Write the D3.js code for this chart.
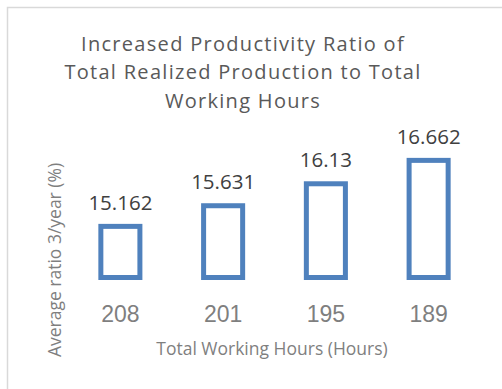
<!DOCTYPE html>
<html>
<head>
<meta charset="utf-8">
<script src="https://cdn.jsdelivr.net/npm/d3@7"></script>
<style>
  body { margin: 0; background: #fff; }
  svg { display: block; font-family: "Open Sans", "Noto Sans", sans-serif; }
</style>
</head>
<body>
<div id="graf"></div>
<script>
// data
const categories = ["208", "201", "195", "189"];
const values = [15.162, 15.631, 16.13, 16.662];
const titleLines = ["Increased Productivity Ratio of", "Total Realized Production to Total", "Working Hours"];
const xTitle = "Total Working Hours (Hours)";
const yTitle = "Average ratio 3/year (%)";

const anchoTotal = 502;
const altoTotal = 389;
const margins = { top: 145.5, right: 22, bottom: 111.5, left: 69 };
const ancho = anchoTotal - margins.left - margins.right;
const alto = altoTotal - margins.top - margins.bottom;

const svg = d3.select("#graf").append("svg")
    .attr("width", anchoTotal)
    .attr("height", altoTotal);

// chart frame (cropped at right and bottom)
svg.append("rect")
    .attr("x", 7.5).attr("y", 7.5)
    .attr("width", 540).attr("height", 420)
    .attr("fill", "white")
    .attr("stroke", "#d9d9d9")
    .attr("stroke-width", 1.5);

// title
svg.append("text")
    .attr("text-anchor", "middle")
    .attr("fill", "#595959")
    .style("font-size", "20px")
    .style("letter-spacing", "1.3px")
    .selectAll("tspan")
    .data(titleLines)
    .join("tspan")
    .attr("x", 243)
    .attr("y", (d, i) => 51 + i * 28.3)
    .text(d => d);

const g = svg.append("g").attr("transform", `translate(${margins.left}, ${margins.top})`);

const x = d3.scaleBand().domain(categories).range([0, ancho]).paddingInner(0.62).paddingOuter(0.31);
const y = d3.scaleLinear().domain([14, 17]).range([alto, 0]);

const data = categories.map((c, i) => ({ cat: c, val: values[i] }));

g.selectAll("rect.bar")
    .data(data)
    .join("rect")
    .attr("class", "bar")
    .attr("x", d => x(d.cat))
    .attr("y", d => y(d.val))
    .attr("width", x.bandwidth())
    .attr("height", d => alto - y(d.val))
    .attr("fill", "white")
    .attr("stroke", "#4f81bd")
    .attr("stroke-width", 5);

// value labels
g.selectAll("text.valor")
    .data(data)
    .join("text")
    .attr("class", "valor")
    .attr("x", d => x(d.cat) + x.bandwidth() / 2)
    .attr("y", d => y(d.val) - 16.5)
    .attr("text-anchor", "middle")
    .attr("fill", "#404040")
    .style("font-size", "20.5px")
    .text(d => d.val);

// x axis (labels only)
const xAxis = d3.axisBottom(x).tickSize(0).tickPadding(0);
const xAxisGroup = g.append("g").attr("transform", `translate(0, ${alto})`).call(xAxis);
xAxisGroup.select(".domain").remove();
xAxisGroup.selectAll("text")
    .attr("dy", null)
    .attr("y", 44)
    .attr("fill", "#7f7f7f")
    .style("font-family", "inherit")
    .style("font-size", "23px");

// axis titles
svg.append("text")
    .attr("x", 272).attr("y", 355)
    .attr("text-anchor", "middle")
    .attr("fill", "#7f7f7f")
    .style("font-size", "17.5px")
    .text(xTitle);

svg.append("text")
    .attr("transform", "translate(61, 260) rotate(-90)")
    .attr("text-anchor", "middle")
    .attr("fill", "#7f7f7f")
    .style("font-size", "17.5px")
    .text(yTitle);
</script>
</body>
</html>
